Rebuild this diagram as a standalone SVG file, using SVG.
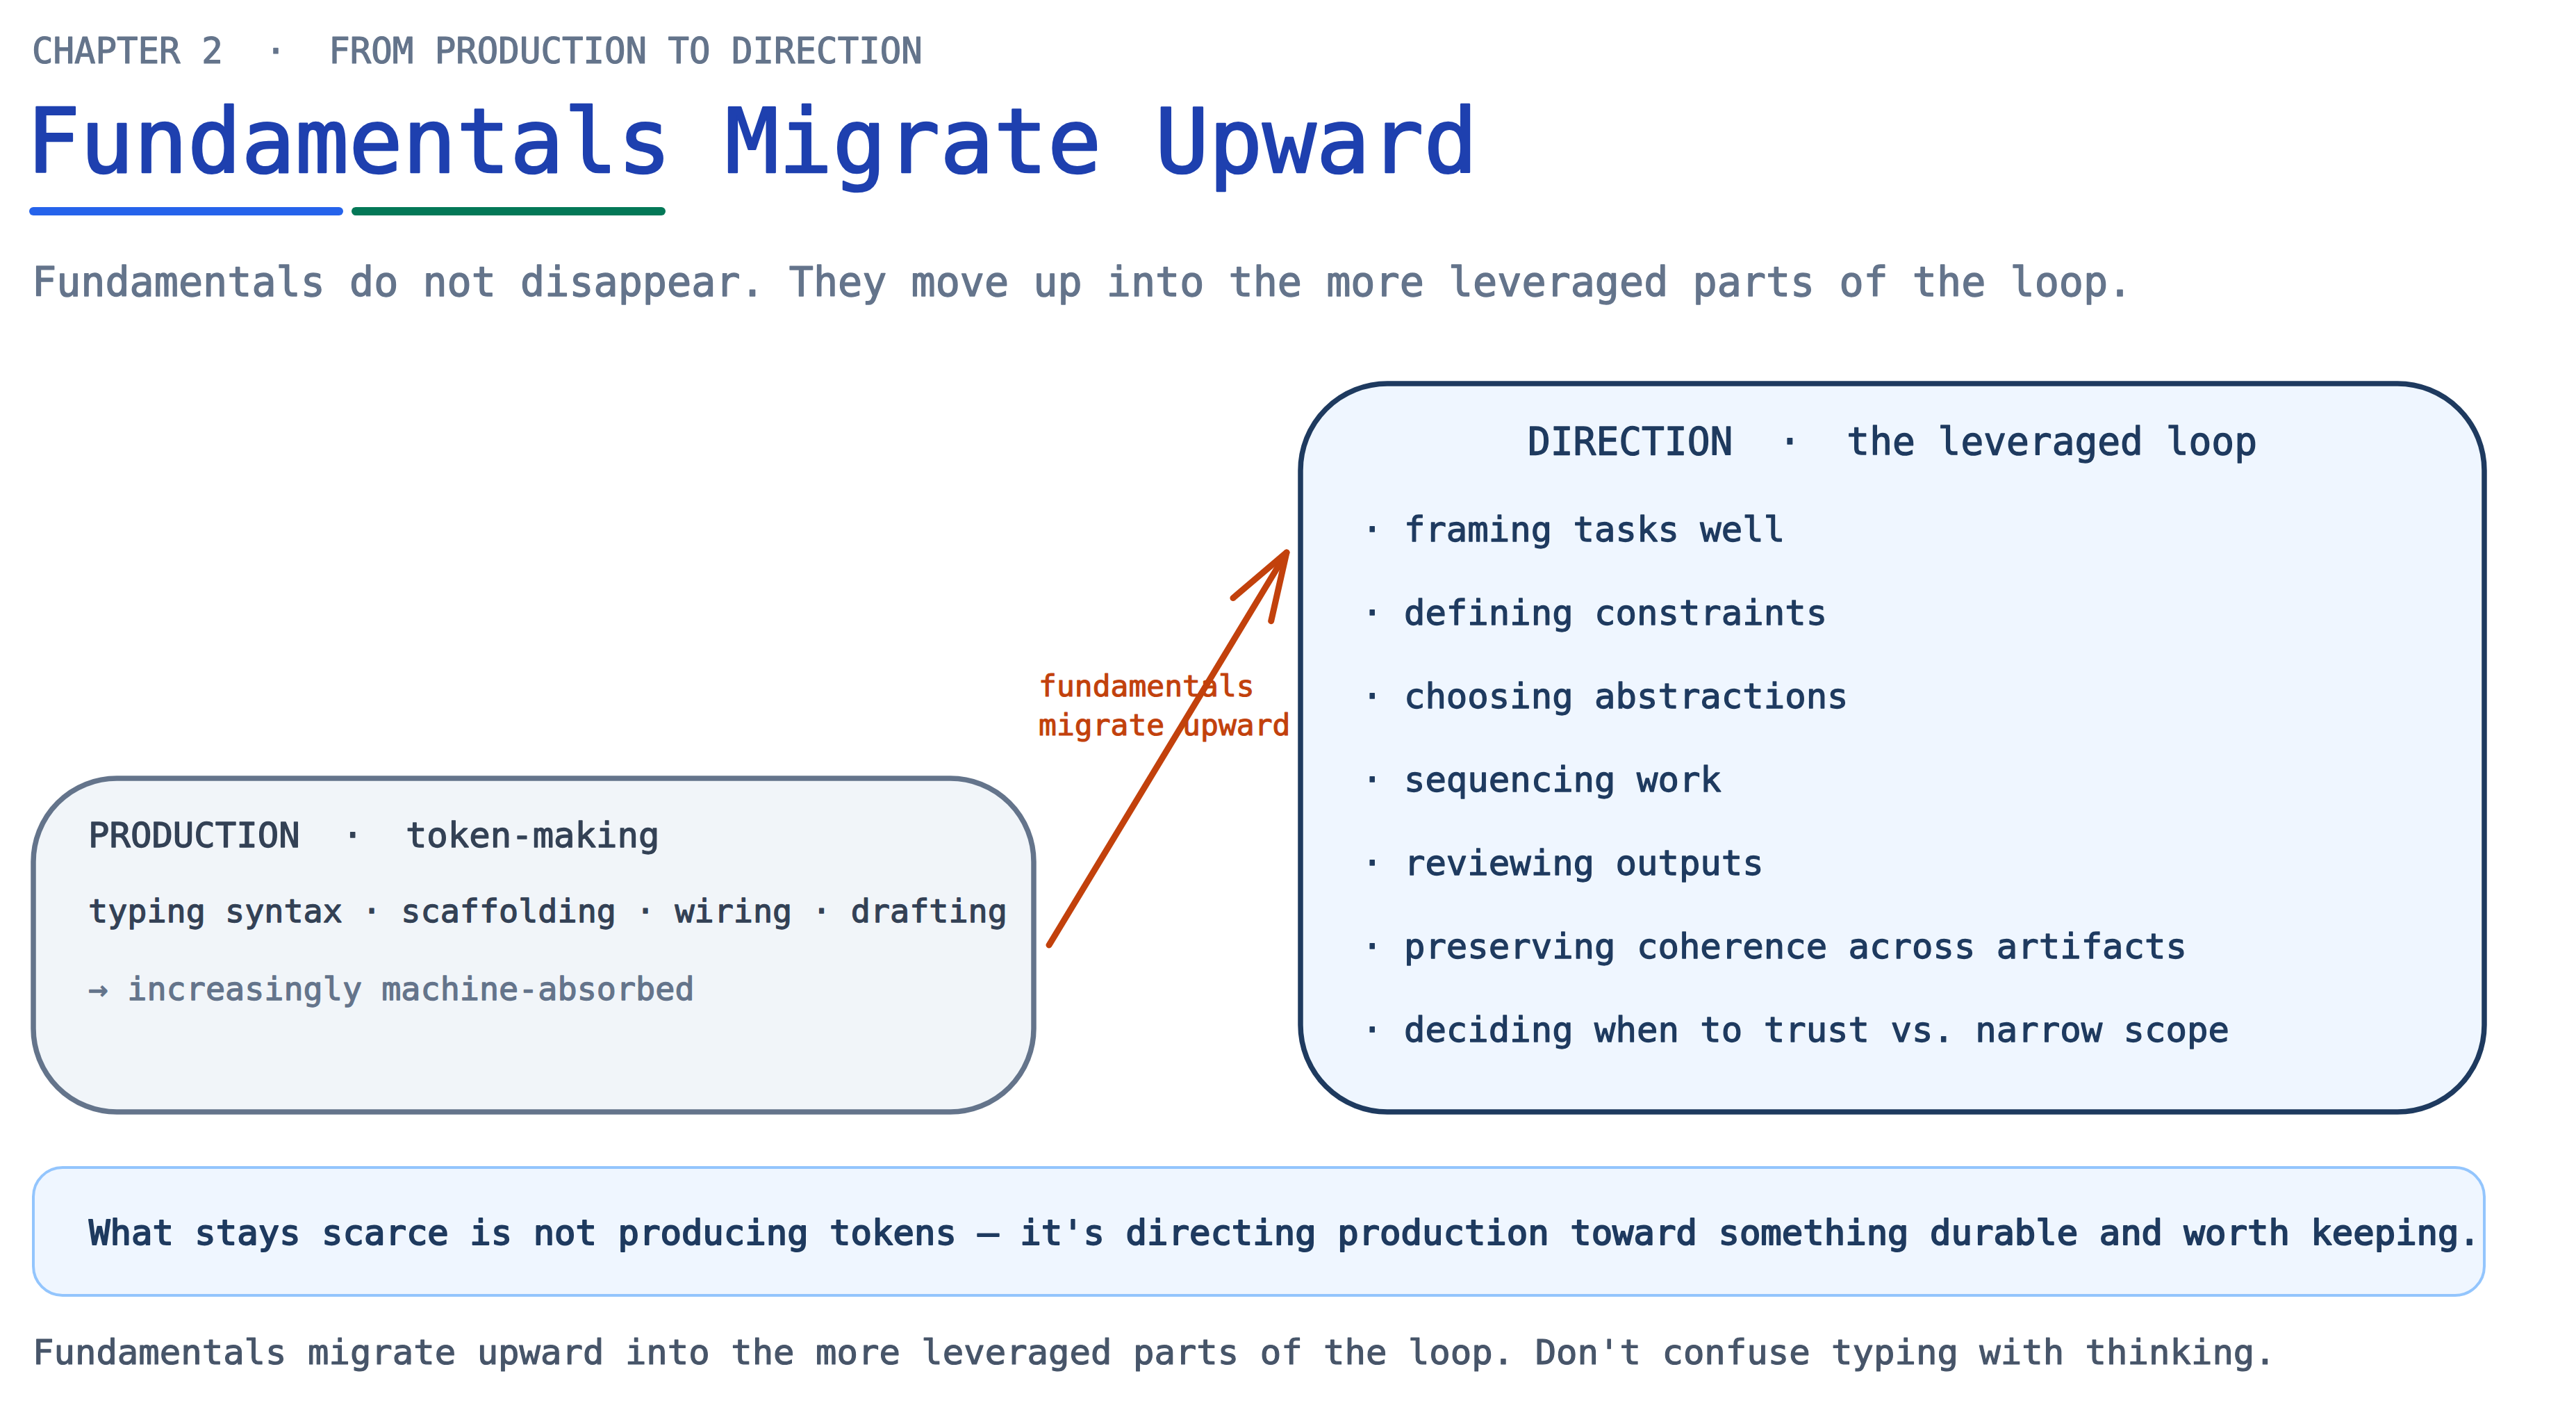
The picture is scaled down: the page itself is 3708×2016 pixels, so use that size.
<svg xmlns="http://www.w3.org/2000/svg" width="3708" height="2016" viewBox="0 0 3708 2016">
<style>
text { font-family: "DejaVu Sans Mono", "Liberation Mono", monospace; white-space: pre; paint-order: stroke; stroke-linejoin: round; }
.chap { font-size: 50.7px; fill: #64748b; stroke: #64748b; stroke-width: 1.2px; }
.title { font-size: 128.5px; fill: #1e40af; stroke: #1e40af; stroke-width: 2.6px; }
.sub { font-size: 58.4px; fill: #64748b; stroke: #64748b; stroke-width: 1.4px; }
.ph { font-size: 50.6px; fill: #334155; stroke: #334155; stroke-width: 1.3px; }
.pi { font-size: 46.75px; fill: #334155; stroke: #334155; stroke-width: 1.3px; }
.pm { font-size: 46.75px; fill: #64748b; stroke: #64748b; stroke-width: 1.3px; }
.dh { font-size: 54.5px; fill: #1e3a5f; stroke: #1e3a5f; stroke-width: 1.3px; }
.di { font-size: 50.6px; fill: #1e3a5f; stroke: #1e3a5f; stroke-width: 1.3px; }
.lbl { font-size: 43px; fill: #c2410c; stroke: #c2410c; stroke-width: 1.1px; }
.call { font-size: 50.6px; fill: #1e3a5f; stroke: #1e3a5f; stroke-width: 2px; }
.foot { font-size: 50.6px; fill: #475569; stroke: #475569; stroke-width: 1.2px; }
.box-prod { fill: #f1f5f9; stroke: #64748b; stroke-width: 7.5; }
.box-dir { fill: #eff6ff; stroke: #1e3a5f; stroke-width: 7.5; }
.box-call { fill: #eff6ff; stroke: #93c5fd; stroke-width: 4; }
.conn { fill: none; stroke: #c2410c; stroke-width: 9; stroke-linecap: round; stroke-linejoin: round; }
</style>
<defs>
<marker id="ah" markerUnits="userSpaceOnUse" viewBox="-110 -45 120 90" refX="0" refY="0" markerWidth="120" markerHeight="90" orient="auto" overflow="visible">
<path d="M-96,-32 L0,0 L-96,32" fill="none" stroke="#c2410c" stroke-width="9" stroke-linecap="round" stroke-linejoin="round"/>
</marker>
</defs>
<rect width="3708" height="2016" fill="#ffffff"/>

<g id="header">
<text class="chap" x="46" y="91">CHAPTER 2  ·  FROM PRODUCTION TO DIRECTION</text>
<text class="title" x="38" y="248">Fundamentals Migrate Upward</text>
<line x1="48" y1="304" x2="488" y2="304" stroke="#2563eb" stroke-width="12" stroke-linecap="round"/>
<line x1="512" y1="304" x2="952" y2="304" stroke="#047857" stroke-width="12" stroke-linecap="round"/>
<text class="sub" x="46" y="426">Fundamentals do not disappear. They move up into the more leveraged parts of the loop.</text>
</g>

<g id="node-production">
<rect class="box-prod" x="48" y="1120" width="1440" height="480" rx="120" ry="120"/>
<text class="ph" x="127" y="1219">PRODUCTION  ·  token-making</text>
<text class="pi" x="127" y="1327">typing syntax · scaffolding · wiring · drafting</text>
<text class="pm" x="127" y="1439">→ increasingly machine-absorbed</text>
</g>

<g id="node-direction">
<rect class="box-dir" x="1872" y="552" width="1704" height="1048" rx="125" ry="125"/>
<text class="dh" x="2724" y="654" text-anchor="middle">DIRECTION  ·  the leveraged loop</text>
<text class="di" x="1960" y="779">· framing tasks well</text>
<text class="di" x="1960" y="899">· defining constraints</text>
<text class="di" x="1960" y="1019">· choosing abstractions</text>
<text class="di" x="1960" y="1139">· sequencing work</text>
<text class="di" x="1960" y="1259">· reviewing outputs</text>
<text class="di" x="1960" y="1379">· preserving coherence across artifacts</text>
<text class="di" x="1960" y="1499">· deciding when to trust vs. narrow scope</text>
</g>

<g id="edge-label">
<text class="lbl" x="1495" y="1002">fundamentals</text>
<text class="lbl" x="1495" y="1058">migrate upward</text>
</g>

<g id="connectors">
<path class="conn" d="M1510,1360 L1852,795" marker-end="url(#ah)"/>
</g>

<g id="node-callout">
<rect class="box-call" x="48" y="1680" width="3528" height="184" rx="42" ry="42"/>
<text class="call" x="128" y="1791">What stays scarce is not producing tokens — it's directing production toward something durable and worth keeping.</text>
</g>

<g id="footer">
<text class="foot" x="47" y="1963">Fundamentals migrate upward into the more leveraged parts of the loop. Don't confuse typing with thinking.</text>
</g>
</svg>
